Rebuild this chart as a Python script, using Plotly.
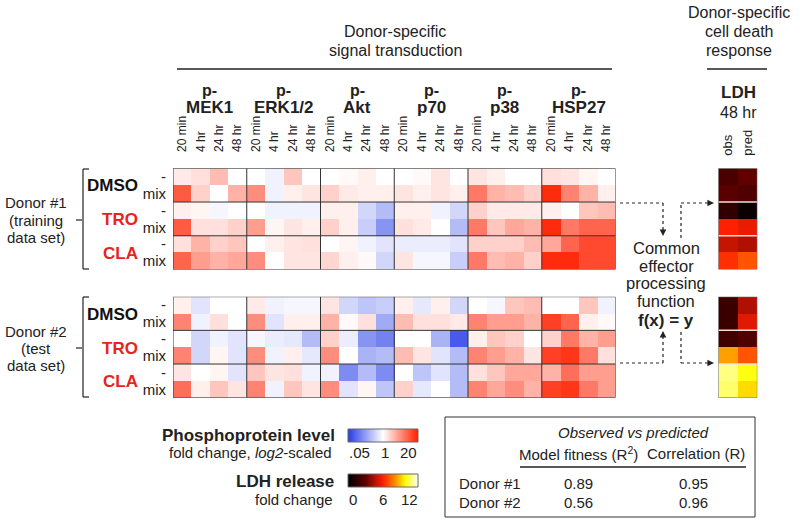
import plotly.graph_objects as go

W, H = 800, 522
def X(p): return p / W
def Y(p): return 1 - p / H

# ---------------- data ----------------
proteins = ["MEK1", "ERK1/2", "Akt", "p70", "p38", "HSP27"]
timepoints = ["20 min", "4 hr", "24 hr", "48 hr"]
conditions = ["DMSO", "TRO", "CLA"]
treatments = ["-", "mix"]

# log2 fold change, rows: DMSO -, DMSO mix, TRO -, TRO mix, CLA -, CLA mix
# columns: protein x timepoint (MEK1 20min..48hr, ERK1/2 ..., ..., HSP27 ...)
donor1_log2 = [
    [0.4, 0.6, 1.3, 0.0,  0.0, -0.3, 1.1, 0.0,  0.0, 0.1, 0.3, 0.0,  0.0, 0.1, 0.5, 0.0,  0.5, 0.3, 0.0, 0.0,  0.6, 0.5, 0.2, 0.0],
    [3.2, 0.9, 0.0, 1.5,  2.2, -0.3, 0.3, 0.5,  0.9, 0.4, 0.3, 0.3,  0.5, 0.3, 0.5, 0.3,  2.6, 1.5, 1.3, 0.9,  4.1, 2.4, 1.5, 0.3],
    [0.3, 0.2, -0.2, 0.0, 0.0, -0.3, -0.3, -0.3, 0.3, 0.3, -0.9, -1.5, 0.3, 0.3, -0.3, -0.9, 0.9, 0.4, 0.4, 0.4, 0.3, 0.0, 1.1, 1.3],
    [3.2, 0.6, 0.6, 0.9,  1.9, 0.2, 0.5, 0.3,  0.9, 0.3, -1.1, -2.4, 0.6, 0.4, 0.0, -1.5, 2.6, 1.1, 1.7, 1.5, 4.1, 2.6, 3.0, 3.0],
    [0.6, 1.5, 0.9, 1.1,  0.0, 0.3, 0.5, 0.6,  0.0, 0.2, -0.3, -0.6, -0.4, -0.4, -0.4, -0.6, 0.9, 0.9, 0.9, 1.3, 1.7, 3.0, 3.5, 3.5],
    [3.0, 1.9, 1.5, 1.7,  2.2, 0.0, 0.5, 0.5,  0.8, 0.3, 0.1, -0.9, 0.5, -0.2, -0.2, -1.1, 2.6, 1.3, 1.5, 0.9, 4.1, 4.1, 3.5, 3.5],
]
donor2_log2 = [
    [0.3, -0.6, 0.0, 0.0,  0.4, -0.3, -0.2, -0.2,  0.5, -0.9, -1.3, -1.1,  0.3, -0.5, 0.3, -0.9,  0.0, -0.2, 1.1, 1.3,  0.0, 0.0, 1.1, -0.3],
    [2.4, -0.3, 0.6, 0.0,  2.2, -0.6, 0.3, 0.3,  1.5, 0.1, 0.6, -1.9,  1.3, 0.6, 0.6, 0.4,  2.4, 1.9, 1.9, 1.5,  3.7, 3.0, 0.3, 0.1],
    [0.0, -0.9, -0.3, -0.6, -0.2, -0.4, -0.5, -1.5, 0.9, -0.4, -2.4, -2.8, 0.0, 0.0, -1.7, -3.7, 0.3, 1.1, 0.9, 0.0, 0.9, 2.6, 1.5, 1.9],
    [2.4, -0.9, 0.2, -0.6, 2.2, -0.3, 0.3, -0.5,  2.2, 0.0, -1.7, -1.5,  1.3, 0.5, -0.6, -1.5, 2.4, 1.9, 1.5, 0.5,  3.7, 3.9, 2.6, 0.6],
    [0.5, 0.0, 0.2, -0.6,  1.1, 0.5, 0.6, -0.3,  -0.3, -2.6, -1.5, -2.6, 0.0, -1.3, -0.6, -1.5, 0.6, 1.1, 1.7, 1.7, 1.5, 2.8, 1.9, 1.9],
    [2.8, 0.3, 1.1, 0.5,  2.4, -0.3, 1.1, 0.5,  2.2, -0.6, 0.2, -1.3,  0.9, -0.5, 0.0, -1.5, 2.4, 1.7, 2.2, 1.5,  3.7, 3.9, 2.6, 1.9],
]

ldh_columns = ["obs", "pred"]
donor1_ldh_obs = [2.3, 2.8, 1.5, 6.0, 4.9, 6.3]
donor1_ldh_pred = [3.0, 2.5, 0.3, 5.6, 4.5, 7.0]
donor2_ldh_obs = [1.8, 1.8, 2.0, 8.4, 11.0, 10.8]
donor2_ldh_pred = [4.5, 5.4, 2.5, 7.0, 10.0, 9.3]

table_donors = ["Donor #1", "Donor #2"]
fitness_r2 = ["0.89", "0.56"]
correlation_r = ["0.95", "0.96"]

phospho_ticks = [".05", "1", "20"]
ldh_ticks = ["0", "6", "12"]
phospho_ramp = [-4.32 + i * 8.64 / 99 for i in range(100)]
ldh_ramp = [i * 12 / 99 for i in range(100)]

# ---------------- styling ----------------
FONT = "Liberation Sans, Arial, sans-serif"
RED = "#e8231c"
PH_MAX = 4.32
phospho_cs = [[0, "rgb(40,62,232)"], [0.5, "rgb(255,255,255)"], [1, "rgb(255,32,0)"]]
ldh_cs = [[0, "#000000"], [0.25, "#600000"], [0.5, "#ff2000"], [0.68, "#ff9000"],
          [0.82, "#ffff00"], [1, "#fffff0"]]

fig = go.Figure()

ncol = len(proteins) * len(timepoints)
cols = list(range(ncol))
rows = list(range(len(conditions) * len(treatments)))

def zz(a, b):
    return [[a[i], b[i]] for i in range(len(a))]

fig.add_trace(go.Heatmap(z=donor1_log2, x=cols, y=rows, colorscale=phospho_cs,
                         zmin=-PH_MAX, zmax=PH_MAX, showscale=False, xaxis="x", yaxis="y",
                         hoverinfo="skip"))
fig.add_trace(go.Heatmap(z=donor2_log2, x=cols, y=rows, colorscale=phospho_cs,
                         zmin=-PH_MAX, zmax=PH_MAX, showscale=False, xaxis="x2", yaxis="y2",
                         hoverinfo="skip"))
fig.add_trace(go.Heatmap(z=zz(donor1_ldh_obs, donor1_ldh_pred), x=[0, 1], y=rows,
                         colorscale=ldh_cs, zmin=0, zmax=12, showscale=False,
                         xaxis="x3", yaxis="y3", hoverinfo="skip"))
fig.add_trace(go.Heatmap(z=zz(donor2_ldh_obs, donor2_ldh_pred), x=[0, 1], y=rows,
                         colorscale=ldh_cs, zmin=0, zmax=12, showscale=False,
                         xaxis="x4", yaxis="y4", hoverinfo="skip"))
fig.add_trace(go.Heatmap(z=[phospho_ramp], colorscale=phospho_cs, zmin=-PH_MAX, zmax=PH_MAX,
                         showscale=False, xaxis="x5", yaxis="y5", hoverinfo="skip"))
fig.add_trace(go.Heatmap(z=[ldh_ramp], colorscale=ldh_cs, zmin=0, zmax=12,
                         showscale=False, xaxis="x6", yaxis="y6", hoverinfo="skip"))

HM_X = [X(173), X(615.5)]
LDH_X = [X(718.3), X(757.3)]
D1_Y = [Y(269.5), Y(168.3)]
D2_Y = [Y(397.7), Y(296.7)]

time_ticks = timepoints * len(proteins)
row_ticks = treatments * len(conditions)

def xax(domain, n, labels=None, font=12, stand=12):
    d = dict(domain=domain, range=[-0.5, n - 0.5], showgrid=False, zeroline=False,
             showline=False, fixedrange=True)
    if labels:
        d.update(side="top", tickmode="array", tickvals=list(range(n)), ticktext=labels,
                 tickangle=-90, tickfont=dict(size=font, color="#222", family=FONT),
                 ticks="outside", ticklen=stand, tickcolor="rgba(0,0,0,0)")
    else:
        d.update(showticklabels=False, ticks="")
    return d

def yax(domain, labels=True, anchor=None):
    d = dict(domain=domain, range=[5.5, -0.5], showgrid=False, zeroline=False,
             showline=False, fixedrange=True, anchor=anchor)
    if labels:
        d.update(tickmode="array", tickvals=rows, ticktext=row_ticks,
                 tickfont=dict(size=15, color="#222", family=FONT), ticks="outside",
                 ticklen=3, tickcolor="rgba(0,0,0,0)")
    else:
        d.update(showticklabels=False, ticks="")
    return d

fig.update_layout(
    width=W, height=H, margin=dict(l=0, r=0, t=0, b=0),
    paper_bgcolor="white", plot_bgcolor="white", showlegend=False,
    font=dict(family=FONT, color="#222"),
    xaxis=xax(HM_X, ncol, time_ticks, 12, 13),
    yaxis=yax(D1_Y, True, "x"),
    xaxis2=dict(xax(HM_X, ncol), anchor="y2"),
    yaxis2=yax(D2_Y, True, "x2"),
    xaxis3=dict(xax(LDH_X, 2, ldh_columns, 13, 9), anchor="y3"),
    yaxis3=yax(D1_Y, False, "x3"),
    xaxis4=dict(xax(LDH_X, 2), anchor="y4"),
    yaxis4=yax(D2_Y, False, "x4"),
    xaxis5=dict(domain=[X(348), X(418)], visible=False, anchor="y5"),
    yaxis5=dict(domain=[Y(442), Y(429)], visible=False, anchor="x5"),
    xaxis6=dict(domain=[X(348), X(418)], visible=False, anchor="y6"),
    yaxis6=dict(domain=[Y(487), Y(474)], visible=False, anchor="x6"),
)

shapes = []
GRID = "#333333"
for xr, yr in [("x", "y"), ("x2", "y2")]:
    for k in range(1, len(proteins)):
        v = k * len(timepoints) - 0.5
        shapes.append(dict(type="line", xref=xr, yref=yr, x0=v, x1=v, y0=-0.5, y1=5.5,
                           line=dict(color=GRID, width=1)))
    for k in range(1, len(conditions)):
        v = k * 2 - 0.5
        shapes.append(dict(type="line", xref=xr, yref=yr, x0=-0.5, x1=ncol - 0.5, y0=v, y1=v,
                           line=dict(color=GRID, width=1)))
    shapes.append(dict(type="rect", xref=xr, yref=yr, x0=-0.5, x1=ncol - 0.5, y0=-0.5, y1=5.5,
                       line=dict(color=GRID, width=1)))
for xr, yr in [("x3", "y3"), ("x4", "y4")]:
    for k in range(1, len(conditions)):
        v = k * 2 - 0.5
        shapes.append(dict(type="line", xref=xr, yref=yr, x0=-0.5, x1=1.5, y0=v, y1=v,
                           line=dict(color="#f4dcdc", width=1.5)))
    shapes.append(dict(type="rect", xref=xr, yref=yr, x0=-0.5, x1=1.5, y0=-0.5, y1=5.5,
                       line=dict(color="#777", width=1)))

def pline(x0, y0, x1, y1, w=1.0, color="#222", dash=None):
    ln = dict(color=color, width=w)
    if dash:
        ln["dash"] = dash
    shapes.append(dict(type="line", xref="paper", yref="paper", x0=X(x0), x1=X(x1),
                       y0=Y(y0), y1=Y(y1), line=ln))

# header rules
pline(177, 69, 612, 69, 1.6)
pline(707, 69, 767, 69, 1.6)
# brackets
for top, bot, mid in [(169, 269, 220), (297, 397, 348)]:
    pline(83, top, 83, bot, 1.2)
    pline(83, top, 89, top, 1.2)
    pline(83, bot, 89, bot, 1.2)
    pline(76, mid, 82, mid, 1.2)
# legend bar borders
for y0, y1 in [(429, 442), (474, 487)]:
    shapes.append(dict(type="rect", xref="paper", yref="paper", x0=X(348), x1=X(418),
                       y0=Y(y1), y1=Y(y0), line=dict(color="#666", width=1)))
# table
shapes.append(dict(type="rect", xref="paper", yref="paper", x0=X(445), x1=X(755),
                   y0=Y(517), y1=Y(417), line=dict(color="#333", width=1)))
pline(520, 467, 746, 467, 1.5)
# dotted flow lines
DOT = "dot"
pline(620, 203, 663, 203, 1.2, dash=DOT)
pline(663, 203, 663, 230, 1.2, dash=DOT)
pline(681, 238, 681, 203, 1.2, dash=DOT)
pline(681, 203, 708, 203, 1.2, dash=DOT)
pline(620, 363, 663, 363, 1.2, dash=DOT)
pline(663, 363, 663, 337, 1.2, dash=DOT)
pline(681, 332, 681, 363, 1.2, dash=DOT)
pline(681, 363, 708, 363, 1.2, dash=DOT)
fig.update_layout(shapes=shapes)

ann = []
def txt(t, x, y, size=15, bold=False, color="#222", anchor="center", italic=False):
    if bold:
        t = "<b>" + t + "</b>"
    if italic:
        t = "<i>" + t + "</i>"
    ann.append(dict(text=t, x=X(x), y=Y(y), xref="paper", yref="paper", showarrow=False,
                    xanchor=anchor, yanchor="middle",
                    font=dict(size=size, color=color, family=FONT)))

def arrowhead(x, y, dx, dy):
    ann.append(dict(text="", x=X(x), y=Y(y), xref="paper", yref="paper", showarrow=True,
                    ax=dx, ay=dy, arrowhead=2, arrowsize=1.1, arrowwidth=1.2,
                    arrowcolor="#222", standoff=0))

# headers
txt("Donor-specific", 395, 32, 16)
txt("signal transduction", 395, 50, 16)
txt("Donor-specific", 739, 13, 16)
txt("cell death", 739, 32, 16)
txt("response", 739, 50, 16)
block_w = (615.5 - 173) / len(proteins)
for i, p in enumerate(proteins):
    cx = 173 + block_w * (i + 0.5)
    txt("p-", cx, 90, 16, bold=True)
    txt(p, cx, 108, 17, bold=True)
txt("LDH", 738, 93, 17, bold=True)
txt("48 hr", 738, 112, 16)

# donor labels
for lines, top in [(["Donor #1", "(training", "data set)"], 203),
                   (["Donor #2", "(test", "data set)"], 331)]:
    for k, s in enumerate(lines):
        txt(s, 36, top + 17 * k, 15)
cond_colors = ["#111", RED, RED]
for base in [168.3, 296.7]:
    for k, c in enumerate(conditions):
        txt(c, 140, base + 17.6 + 33.7 * k, 17, bold=True, color=cond_colors[k], anchor="right")

# common effector text
for k, s in enumerate(["Common", "effector", "processing", "function"]):
    txt(s, 666, 248 + 17.7 * k, 16.5)
txt("f(x) = y", 666, 320, 17, bold=True)
arrowhead(663, 236, 0, -6)
arrowhead(714, 203, -6, 0)
arrowhead(663, 331, 0, 6)
arrowhead(714, 363, -6, 0)

# legend
txt("Phosphoprotein level", 337, 435, 17, bold=True, anchor="right")
txt("fold change, <i>log2</i>-scaled", 334, 452, 15, anchor="right")
for s, x in zip(phospho_ticks, [359, 385, 408]):
    txt(s, x, 452, 15)
txt("LDH release", 336, 481, 17, bold=True, anchor="right")
txt("fold change", 335, 499, 15, anchor="right")
for s, x in zip(ldh_ticks, [353, 383, 410]):
    txt(s, x, 499, 15)

# table
txt("Observed vs predicted", 633, 432, 15, italic=True)
txt("Model fitness (R<sup>2</sup>)", 578, 453, 15)
txt("Correlation (R)", 696, 453, 15)
for k, d in enumerate(table_donors):
    yy = 483 + 19 * k
    txt(d, 457, yy, 15, anchor="left")
    txt(fitness_r2[k], 578, yy, 15)
    txt(correlation_r[k], 693, yy, 15)

fig.update_layout(annotations=ann)
fig.write_html("out.html", config={"displayModeBar": False},
               post_script="document.body.style.margin='0';document.body.style.overflow='hidden';")
